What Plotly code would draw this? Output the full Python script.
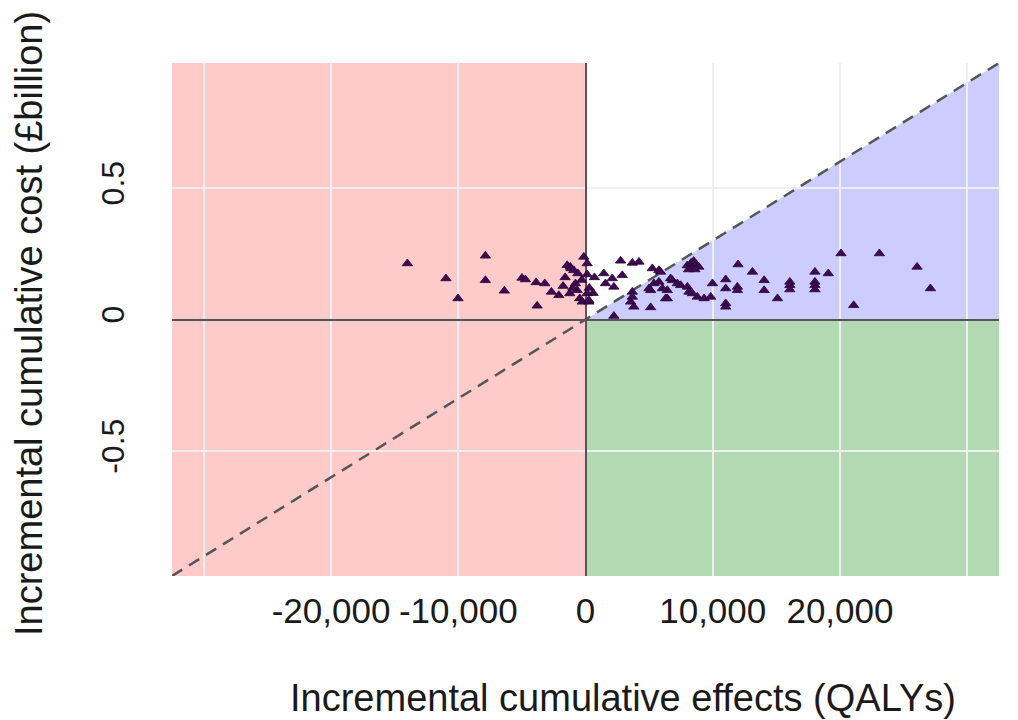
import plotly.graph_objects as go

# Incremental cumulative effects (QALYs) and costs (£billion)
effects = [
    -14000, -7870, -10970, -7870, -10020, -6380, -4990, -4720, -3880, -3200,
    -3800, -2680, -2100, -1760, -1600, -1440, -1200, -1130, -920, -1240,
    -790, -660, -450, -130, -260, -600, -300, -1000,
    130, 260, 130, 700, 1440, 2100, 1570, 2890, 2230, 2760,
    3680, 4200, 5250, 5770, 5900, 300, 600, 130, 260,
    3680, 3680, 3550, 3800, 2230, 5120, 5380, 5770, 5120, 6430,
    6430, 6830, 7220, 7480, 8010, 8130, 8400, 8790, 9320, 9840,
    8000, 8300, 8500, 8700, 8400, 8900, 8600, 8100,
    9980, 11020, 11020, 11020, 11020, 11940, 11940, 11990, 13120, 14040,
    14040, 15090, 16060, 16060, 16060, 18030, 18030, 18030, 18030, 19080,
    20080, 21080, 23100, 26060, 27110, 4990, 6040, 6690, 6300,
]
costs = [
    0.213, 0.242, 0.156, 0.149, 0.080, 0.109, 0.158, 0.152, 0.141, 0.137,
    0.052, 0.105, 0.092, 0.127, 0.160, 0.206, 0.200, 0.194, 0.187, 0.099,
    0.137, 0.111, 0.080, 0.238, 0.067, 0.175, 0.150, 0.120,
    0.213, 0.067, 0.171, 0.160, 0.175, 0.156, 0.137, 0.168, 0.124, 0.223,
    0.215, 0.219, 0.194, 0.187, 0.181, 0.120, 0.100, 0.099, 0.073,
    0.105, 0.086, 0.067, 0.048, 0.013, 0.046, 0.137, 0.143, 0.111, 0.111,
    0.080, 0.149, 0.137, 0.130, 0.124, 0.105, 0.099, 0.086, 0.080, 0.086,
    0.205, 0.215, 0.222, 0.210, 0.195, 0.200, 0.190, 0.190,
    0.137, 0.152, 0.118, 0.061, 0.048, 0.124, 0.111, 0.209, 0.181, 0.149,
    0.111, 0.080, 0.143, 0.130, 0.114, 0.181, 0.143, 0.130, 0.114, 0.175,
    0.251, 0.054, 0.251, 0.200, 0.118, 0.118, 0.118, 0.156, 0.080,
]

WTP = 30000  # £ per QALY threshold
X_RANGE = [-32500, 32500]
Y_RANGE = [-0.975, 0.975]
x_ticks = [-30000, -20000, -10000, 0, 10000, 20000, 30000]
x_ticktext = ["", "-20,000", "-10,000", "0", "10,000", "20,000", ""]
y_ticks = [-0.5, 0, 0.5]
y_ticktext = ["-0.5", "0", "0.5"]

FONT = "Liberation Sans, Arial, sans-serif"
TEXT = "#1a1a1a"
PINK = "#FFCACA"
BLUE = "#CCCCFF"
GREEN = "#B3D9B3"

fig = go.Figure()

x0, x1 = X_RANGE
y0, y1 = Y_RANGE
shapes = [
    dict(type="rect", xref="x", yref="y", x0=x0, x1=0, y0=y0, y1=y1,
         fillcolor=PINK, line_width=0, layer="below"),
    dict(type="rect", xref="x", yref="y", x0=0, x1=x1, y0=y0, y1=0,
         fillcolor=GREEN, line_width=0, layer="below"),
    dict(type="path", xref="x", yref="y",
         path=f"M 0 0 L {x1} 0 L {x1} {x1 * WTP / 1e9} Z",
         fillcolor=BLUE, line_width=0, layer="below"),
]

fig.add_trace(go.Scatter(
    x=[x0, x1], y=[x0 * WTP / 1e9, x1 * WTP / 1e9], mode="lines",
    line=dict(color="#555555", width=2.5, dash="12px,8px"),
    hoverinfo="skip", showlegend=False,
))

fig.add_trace(go.Scatter(
    x=effects, y=costs, mode="markers",
    marker=dict(symbol="triangle-up", size=9, color="#3D0C50",
                line=dict(color="#2A0038", width=0.8)),
    showlegend=False,
))

fig.update_layout(
    width=1018, height=720,
    margin=dict(l=172, r=19, t=63, b=144),
    paper_bgcolor="white", plot_bgcolor="white",
    shapes=shapes,
    font=dict(family=FONT, color=TEXT),
    xaxis=dict(range=X_RANGE, tickvals=x_ticks, ticktext=x_ticktext,
               showgrid=True, gridcolor="#F0EEEE", gridwidth=2,
               zeroline=True, zerolinecolor="#555555", zerolinewidth=2,
               ticks="", ticklabelstandoff=11, tickangle=0,
               tickfont=dict(size=35, family=FONT, color=TEXT),
               showline=False, fixedrange=True),
    yaxis=dict(range=Y_RANGE, tickvals=y_ticks, ticktext=y_ticktext,
               showgrid=True, gridcolor="#F0EEEE", gridwidth=2,
               zeroline=True, zerolinecolor="#555555", zerolinewidth=2,
               ticks="", tickangle=-90, ticklabelstandoff=41,
               tickfont=dict(size=32, family=FONT, color=TEXT),
               showline=False, fixedrange=True),
    annotations=[
        dict(text="Incremental cumulative effects (QALYs)", xref="paper", yref="paper",
             x=(622.5 - 172) / 827, y=-(698 - 576) / 513, xanchor="center", yanchor="middle",
             showarrow=False, font=dict(size=38, family=FONT, color=TEXT)),
        dict(text="Incremental cumulative cost (£billion)", xref="paper", yref="paper",
             x=-(172 - 28.5) / 827, y=(576 - 323.5) / 513, xanchor="center", yanchor="middle",
             textangle=-90, showarrow=False,
             font=dict(size=38, family=FONT, color=TEXT)),
    ],
)

fig.write_html("out.html")
